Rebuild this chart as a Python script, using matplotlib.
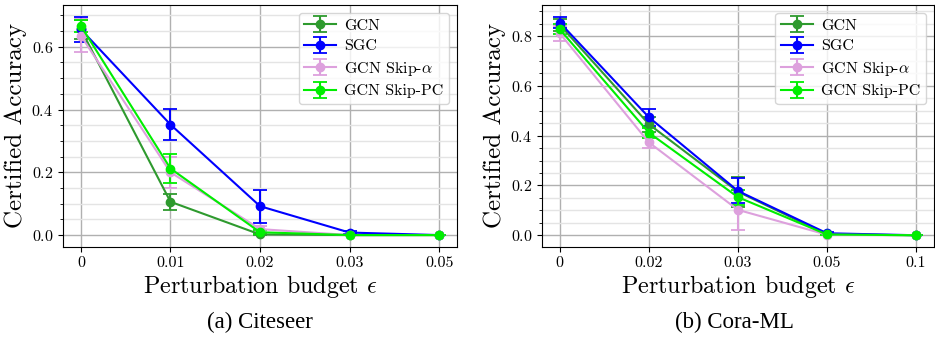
import matplotlib
matplotlib.use("Agg")
import matplotlib.pyplot as plt
import numpy as np
from matplotlib.ticker import MultipleLocator

plt.rcParams['font.family'] = 'serif'
plt.rcParams['font.serif'] = ['cmr10', 'DejaVu Serif']
plt.rcParams['mathtext.fontset'] = 'cm'
plt.rcParams['axes.formatter.use_mathtext'] = True

models = ["GCN", "SGC", r"GCN Skip-$\alpha$", "GCN Skip-PC"]
colors = ["#2e9a2e", "#0000ff", "#dda0dd", "#00ee00"]

cite_ticks = ["0", "0.01", "0.02", "0.03", "0.05"]
cite_mean = {
    "GCN":  [0.655, 0.106, 0.002, 0.000, 0.000],
    "SGC":  [0.655, 0.352, 0.092, 0.008, 0.000],
    "Skip-alpha": [0.635, 0.200, 0.019, 0.000, 0.000],
    "Skip-PC": [0.666, 0.212, 0.009, 0.000, 0.000],
}
cite_err = {
    "GCN":  [0.030, 0.025, 0.003, 0.000, 0.000],
    "SGC":  [0.040, 0.050, 0.053, 0.005, 0.000],
    "Skip-alpha": [0.053, 0.050, 0.010, 0.000, 0.000],
    "Skip-PC": [0.020, 0.047, 0.006, 0.000, 0.000],
}

cora_ticks = ["0", "0.02", "0.03", "0.05", "0.1"]
cora_mean = {
    "GCN":  [0.845, 0.446, 0.175, 0.003, 0.000],
    "SGC":  [0.854, 0.474, 0.178, 0.008, 0.000],
    "Skip-alpha": [0.811, 0.373, 0.102, 0.002, 0.000],
    "Skip-PC": [0.827, 0.412, 0.153, 0.003, 0.000],
}
cora_err = {
    "GCN":  [0.025, 0.030, 0.060, 0.003, 0.000],
    "SGC":  [0.022, 0.034, 0.050, 0.006, 0.000],
    "Skip-alpha": [0.030, 0.023, 0.080, 0.002, 0.000],
    "Skip-PC": [0.020, 0.020, 0.030, 0.003, 0.000],
}
keys = ["GCN", "SGC", "Skip-alpha", "Skip-PC"]

fig = plt.figure(figsize=(9.35, 3.43), dpi=100)
ax1 = fig.add_axes([0.0674, 0.2808, 0.4214, 0.7047])
ax2 = fig.add_axes([0.5797, 0.2808, 0.419, 0.7047])

def draw(ax, ticks, mean, err):
    x = np.arange(len(ticks))
    for k, lab, c in zip(keys, models, colors):
        ax.errorbar(x, mean[k], yerr=err[k], color=c, marker='o', markersize=6,
                    linewidth=1.5, capsize=5, capthick=1.3, label=lab)
    ax.set_xticks(x)
    ax.set_xticklabels(ticks)
    ax.yaxis.set_major_locator(MultipleLocator(0.2))
    ax.yaxis.set_minor_locator(MultipleLocator(0.05))
    ax.grid(True, which='major', color='#b0b0b0', linewidth=1.0)
    ax.grid(True, which='minor', axis='y', color='#e4e4e4', linewidth=1.0)
    ax.set_axisbelow(True)
    ax.tick_params(labelsize=11.5)
    ax.set_xlabel(r"Perturbation budget $\epsilon$", fontsize=17.3, labelpad=2)
    ax.set_ylabel("Certified Accuracy", fontsize=18, labelpad=3)
    ax.legend(loc='upper right', fontsize=11.5, handlelength=2.0,
              borderpad=0.35, labelspacing=0.4, handletextpad=0.5)

draw(ax1, cite_ticks, cite_mean, cite_err)
draw(ax2, cora_ticks, cora_mean, cora_err)
ax1.set_ylim(-0.037, 0.733)
ax2.set_ylim(-0.046, 0.925)

fig.text(0.278, 0.06, "(a) Citeseer", ha='center', va='center',
         fontsize=16.5, family='Liberation Serif')
fig.text(0.786, 0.06, "(b) Cora-ML", ha='center', va='center',
         fontsize=16.5, family='Liberation Serif')

fig.savefig("out.png", dpi=100)
